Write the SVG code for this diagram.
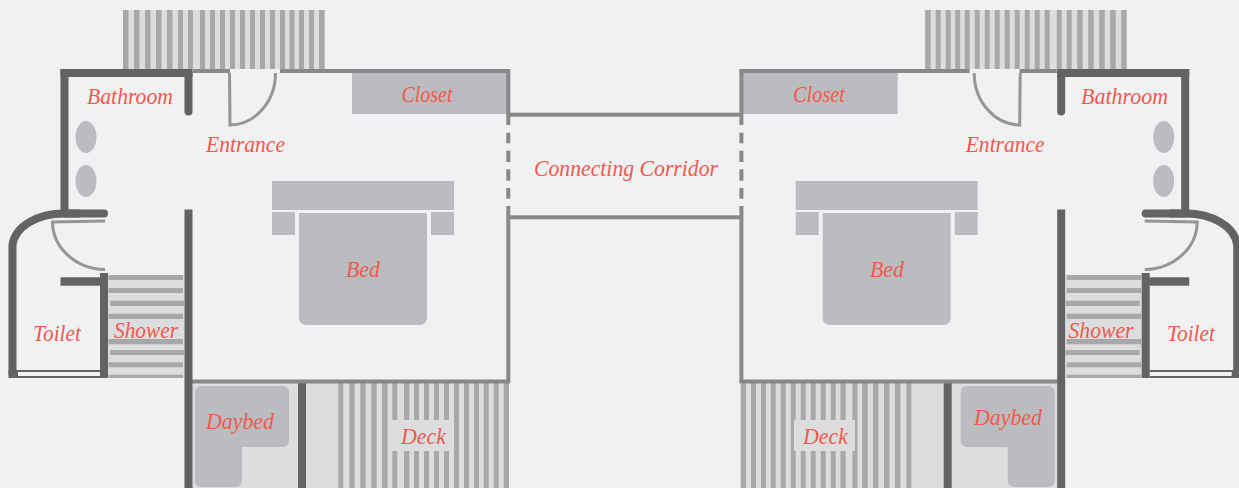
<svg xmlns="http://www.w3.org/2000/svg" xmlns:xlink="http://www.w3.org/1999/xlink" width="1239" height="488" viewBox="0 0 1239 488">
<style>
.deck{fill:#dcdddf}
.st{fill:#a7a8aa}
.fu{fill:#bbbcbf}
.dk{fill:#636365}
.md{fill:#87888a}
.dkl{fill:none;stroke:#636365;stroke-width:8;stroke-linecap:round}
.door{fill:none;stroke:#949597;stroke-width:3}
text{font-family:"Liberation Serif","Times New Roman",serif;font-style:italic;font-size:23.5px;fill:#f0594b}
</style>
<defs>
<g id="unit">
<rect class="deck" x="123" y="10" width="202" height="59"/>
<g class="st">
<rect x="123" y="10" width="5.5" height="59"/><rect x="134" y="10" width="5.5" height="59"/><rect x="145" y="10" width="5.5" height="59"/><rect x="156" y="10" width="5.5" height="59"/><rect x="167" y="10" width="5.5" height="59"/><rect x="178" y="10" width="5" height="59"/><rect x="188" y="10" width="5" height="59"/><rect x="200" y="10" width="5" height="59"/><rect x="210" y="10" width="5" height="59"/><rect x="220" y="10" width="5" height="59"/><rect x="230" y="10" width="5" height="59"/><rect x="240" y="10" width="5" height="59"/><rect x="250" y="10" width="5" height="59"/><rect x="260" y="10" width="5" height="59"/><rect x="270" y="10" width="5" height="59"/><rect x="280" y="10" width="5" height="59"/><rect x="289.500" y="10" width="5" height="59"/><rect x="299" y="10" width="5" height="59"/><rect x="309" y="10" width="5" height="59"/><rect x="319" y="10" width="5.500" height="59"/>
</g>
<rect class="deck" x="108" y="275" width="76" height="103"/>
<g class="st">
<rect x="108.500" y="275" width="74.500" height="5"/><rect x="108.500" y="288" width="74.500" height="5"/><rect x="110" y="300.700" width="74" height="5.300"/><rect x="108.500" y="313.700" width="74.500" height="5.300"/><rect x="108.500" y="339" width="74.500" height="5.300"/><rect x="110" y="350" width="74" height="5"/><rect x="108.500" y="362.300" width="74.500" height="5"/><rect x="108.500" y="374.700" width="74.500" height="3.300"/>
</g>
<rect class="deck" x="192" y="383" width="317" height="105"/>
<g class="st">
<rect x="338.300" y="383" width="5" height="105"/><rect x="349.300" y="383" width="5.400" height="105"/><rect x="360.300" y="383" width="5.400" height="105"/><rect x="371.300" y="383" width="5.400" height="105"/><rect x="382" y="383" width="5.600" height="105"/><rect x="392.300" y="383" width="5" height="105"/><rect x="404" y="383" width="5.300" height="105"/><rect x="414" y="383" width="5" height="105"/><rect x="424" y="383" width="5" height="105"/><rect x="434" y="383" width="5" height="105"/><rect x="444" y="383" width="5" height="105"/><rect x="454" y="383" width="5" height="105"/><rect x="464" y="383" width="5" height="105"/><rect x="474" y="383" width="5" height="105"/><rect x="483.700" y="383" width="5" height="105"/><rect x="493.700" y="383" width="5" height="105"/><rect x="503.700" y="383" width="5.300" height="105"/>
</g>
<path class="fu" d="M201 386H283a6 6 0 0 1 6 6V441a6 6 0 0 1-6 6H242V481a6 6 0 0 1-6 6H201a6 6 0 0 1-6-6V392a6 6 0 0 1 6-6Z"/>
<rect class="dk" x="298" y="383" width="8" height="105"/>
<rect class="fu" x="352" y="73" width="155" height="41"/>
<rect class="fu" x="272" y="181" width="182" height="29"/>
<rect class="fu" x="272" y="212" width="23" height="23"/>
<rect class="fu" x="431" y="212" width="23" height="23"/>
<path class="fu" d="M299 213H427V318a7 7 0 0 1-7 7H306a7 7 0 0 1-7-7Z"/>
<ellipse class="fu" cx="86" cy="137" rx="10.500" ry="16"/>
<ellipse class="fu" cx="86" cy="181" rx="10.500" ry="16"/>
<g class="md">
<rect x="193" y="69" width="37" height="4"/>
<rect x="280" y="69" width="230" height="4"/>
<rect x="506.300" y="69" width="4" height="56"/>
<rect x="506.300" y="132.700" width="4" height="10.600"/>
<rect x="506.300" y="150.700" width="4" height="11.300"/>
<rect x="506.300" y="169.300" width="4" height="11.400"/>
<rect x="506.300" y="188" width="4" height="10.700"/>
<rect x="506.300" y="206" width="4" height="177"/>
<rect x="192" y="379.500" width="318" height="4"/>
</g>
<g class="dk">
<rect x="60.500" y="69" width="132" height="8"/>
<rect x="60.500" y="69" width="8" height="148"/>
<rect x="184.500" y="209.500" width="8" height="278.500"/>
<rect x="60.500" y="277.300" width="40" height="8.400"/>
<rect x="100" y="273" width="8" height="105"/>
<rect x="8.500" y="370" width="9.500" height="8"/>
<rect x="16" y="370" width="84" height="2"/>
<rect x="16" y="376" width="84" height="2"/>
</g>
<path class="dkl" d="M188.500 73V111.500"/>
<path class="dkl" style="stroke-linecap:butt" d="M12.500 375V245C15 226 38 213.500 64 213.500H80"/>
<path class="dkl" d="M64 213.500H104"/>
<path class="door" d="M229.500 73 L230 125 A46 52 0 0 0 275.500 73"/>
<path class="door" d="M105 221 L52.500 222 A53 48 0 0 0 105 269.500"/>
</g>
</defs>
<rect id="background" width="1239" height="488" fill="#f0f1f3"/>
<g id="corridor" class="md">
<rect x="510" y="112.700" width="230" height="4"/>
<rect x="510" y="215.300" width="230" height="4"/>
</g>
<use id="left-unit" href="#unit" xlink:href="#unit"/>
<use id="right-unit" href="#unit" xlink:href="#unit" transform="translate(1249.700 0) scale(-1 1)"/>
<rect class="deck" x="388" y="420" width="66" height="31"/>
<rect class="deck" x="794" y="420" width="61" height="31"/>
<g id="labels">
<text x="87" y="104" textLength="86" lengthAdjust="spacingAndGlyphs">Bathroom</text>
<text x="206" y="152" textLength="79" lengthAdjust="spacingAndGlyphs">Entrance</text>
<text x="401.500" y="102" textLength="51" lengthAdjust="spacingAndGlyphs">Closet</text>
<text x="534" y="175.700" textLength="184" lengthAdjust="spacingAndGlyphs">Connecting Corridor</text>
<text x="346" y="277" textLength="34" lengthAdjust="spacingAndGlyphs">Bed</text>
<text x="33" y="341" textLength="48" lengthAdjust="spacingAndGlyphs">Toilet</text>
<text x="114" y="338" textLength="64" lengthAdjust="spacingAndGlyphs">Shower</text>
<text x="206" y="429" textLength="68" lengthAdjust="spacingAndGlyphs">Daybed</text>
<text x="401" y="444" textLength="45" lengthAdjust="spacingAndGlyphs">Deck</text>
<text x="793" y="102" textLength="52" lengthAdjust="spacingAndGlyphs">Closet</text>
<text x="965.700" y="152" textLength="79" lengthAdjust="spacingAndGlyphs">Entrance</text>
<text x="1081" y="104" textLength="87" lengthAdjust="spacingAndGlyphs">Bathroom</text>
<text x="870" y="277" textLength="34" lengthAdjust="spacingAndGlyphs">Bed</text>
<text x="1068.500" y="338" textLength="65" lengthAdjust="spacingAndGlyphs">Shower</text>
<text x="1167" y="341" textLength="48" lengthAdjust="spacingAndGlyphs">Toilet</text>
<text x="974" y="425" textLength="68" lengthAdjust="spacingAndGlyphs">Daybed</text>
<text x="803" y="444" textLength="45" lengthAdjust="spacingAndGlyphs">Deck</text>
</g>
</svg>
